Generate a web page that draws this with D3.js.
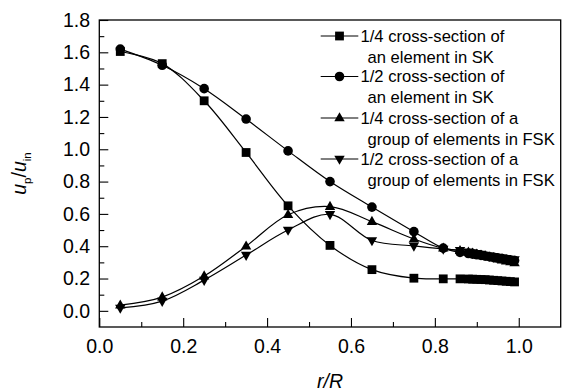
<!DOCTYPE html>
<html><head><meta charset="utf-8">
<script src="https://cdn.jsdelivr.net/npm/d3@7/dist/d3.min.js"></script>
<style>
html,body{margin:0;padding:0;background:#fff;}
svg{display:block;font-family:Arial,"Liberation Sans",sans-serif;}
</style></head>
<body>
<svg id="chart" width="562" height="391"></svg>
<script>
const rValues = [0.05,0.15,0.25,0.35,0.45,0.55,0.65,0.75,0.82,0.86,0.88,0.89,0.90,0.91,0.92,0.93,0.94,0.95,0.96,0.97,0.98,0.99];
const quarterSK = [1.605,1.53,1.30,0.98,0.65,0.405,0.255,0.202,0.198,0.198,0.197,0.196,0.195,0.194,0.193,0.191,0.189,0.187,0.185,0.183,0.181,0.179];
const halfSK = [1.62,1.52,1.375,1.187,0.99,0.80,0.642,0.49,0.388,0.362,0.355,0.351,0.347,0.343,0.339,0.335,0.331,0.327,0.323,0.319,0.315,0.311];
const quarterFSK = [0.035,0.085,0.215,0.40,0.595,0.645,0.552,0.445,0.387,0.372,0.362,0.356,0.350,0.344,0.338,0.332,0.326,0.320,0.314,0.308,0.302,0.296];
const halfFSK = [0.018,0.060,0.19,0.345,0.50,0.597,0.435,0.402,0.383,0.375,0.366,0.361,0.356,0.351,0.346,0.341,0.337,0.333,0.329,0.325,0.321,0.317];
const seriesNames = ["1/4 cross-section of|an element in SK","1/2 cross-section of|an element in SK","1/4 cross-section of a|group of elements in FSK","1/2 cross-section of a|group of elements in FSK"];
const seriesShapes = ["square","circle","up","down"];
const xMajorTicks = [0.0,0.2,0.4,0.6,0.8,1.0];
const xMinorTicks = [0.1,0.3,0.5,0.7,0.9];
const yMajorTicks = [0.0,0.2,0.4,0.6,0.8,1.0,1.2,1.4,1.6,1.8];
const yMinorTicks = [0.1,0.3,0.5,0.7,0.9,1.1,1.3,1.5,1.7];

const svg = d3.select("#chart");
const L = 99.3, R = 560.7, T = 20, B = 327;
const x = d3.scaleLinear().domain([0,1.1]).range([L,R]);
const y = d3.scaleLinear().domain([-0.1,1.8]).range([B,T]);

const fmt = d3.format(".1f");
const gx = svg.append("g").attr("transform",`translate(0,${B})`)
  .call(d3.axisBottom(x).tickValues(xMajorTicks).tickSize(-9).tickPadding(12.5).tickFormat(fmt));
const gxm = svg.append("g").attr("transform",`translate(0,${B})`)
  .call(d3.axisBottom(x).tickValues(xMinorTicks).tickSize(-5).tickFormat(""));
const gy = svg.append("g").attr("transform",`translate(${L},0)`)
  .call(d3.axisLeft(y).tickValues(yMajorTicks).tickSize(-9).tickPadding(9.3).tickFormat(fmt));
const gym = svg.append("g").attr("transform",`translate(${L},0)`)
  .call(d3.axisLeft(y).tickValues(yMinorTicks).tickSize(-5).tickFormat(""));
[gx,gxm,gy,gym].forEach(g=>{
  g.select(".domain").remove();
  g.selectAll("line").attr("stroke","#000").attr("stroke-width",1.1);
  g.selectAll("text").attr("fill","#000").attr("font-size",19.5).attr("font-family","Arial,'Liberation Sans',sans-serif");
});

svg.append("rect").attr("x",L).attr("y",T).attr("width",R-L).attr("height",B-T)
  .attr("fill","none").attr("stroke","#000").attr("stroke-width",1.3);

svg.append("text").attr("x",(L+R)/2).attr("y",388).attr("text-anchor","middle")
  .attr("font-size",19.5).attr("font-style","italic").text("r/R");
const yt = svg.append("text").attr("transform",`translate(26,${(T+B)/2}) rotate(-90)`)
  .attr("text-anchor","middle").attr("font-size",19.5);
yt.append("tspan").attr("font-style","italic").text("u");
yt.append("tspan").attr("font-size",11.5).attr("dy",5).text("p");
yt.append("tspan").attr("dy",-5).text("/");
yt.append("tspan").attr("font-style","italic").text("u");
yt.append("tspan").attr("font-size",11.5).attr("dy",5).text("in");

function markerPath(shape){
  if(shape==="square") return "M-4.4,-4.4H4.4V4.4H-4.4Z";
  if(shape==="circle") return d3.symbol(d3.symbolCircle, Math.PI*4.8*4.8)();
  if(shape==="up") return "M0,-5.8L5.2,3.3L-5.2,3.3Z";
  return "M0,5.8L5.2,-3.3L-5.2,-3.3Z";
}

const allSeries = [quarterSK, halfSK, quarterFSK, halfFSK];
const line = d3.line().x(d=>x(d[0])).y(d=>y(d[1])).curve(d3.curveCatmullRom.alpha(0.5));
const plot = svg.append("g");
allSeries.forEach((vals,i)=>{
  const pts = rValues.map((r,j)=>[r,vals[j]]);
  plot.append("path").attr("d",line(pts)).attr("fill","none").attr("stroke","#000").attr("stroke-width",1.2);
});
allSeries.forEach((vals,i)=>{
  const pts = rValues.map((r,j)=>[r,vals[j]]);
  plot.selectAll(null).data(pts).enter().append("path")
    .attr("d",markerPath(seriesShapes[i]))
    .attr("transform",d=>`translate(${x(d[0])},${y(d[1])})`)
    .attr("fill","#000");
});

const legRows = [36,76.5,118,159];
const lg = svg.append("g");
seriesNames.forEach((name,i)=>{
  const yy = legRows[i];
  lg.append("line").attr("x1",320.7).attr("x2",358.3).attr("y1",yy).attr("y2",yy)
    .attr("stroke","#000").attr("stroke-width",1.2);
  lg.append("path").attr("d",markerPath(seriesShapes[i])).attr("transform",`translate(339.5,${yy})`).attr("fill","#000");
  const parts = name.split("|");
  lg.append("text").attr("x",360.5).attr("y",yy+5.8).attr("font-size",16.6).text(parts[0]);
  lg.append("text").attr("x",367.5).attr("y",yy+26.5).attr("font-size",16.6).text(parts[1]);
});
</script>
</body></html>
